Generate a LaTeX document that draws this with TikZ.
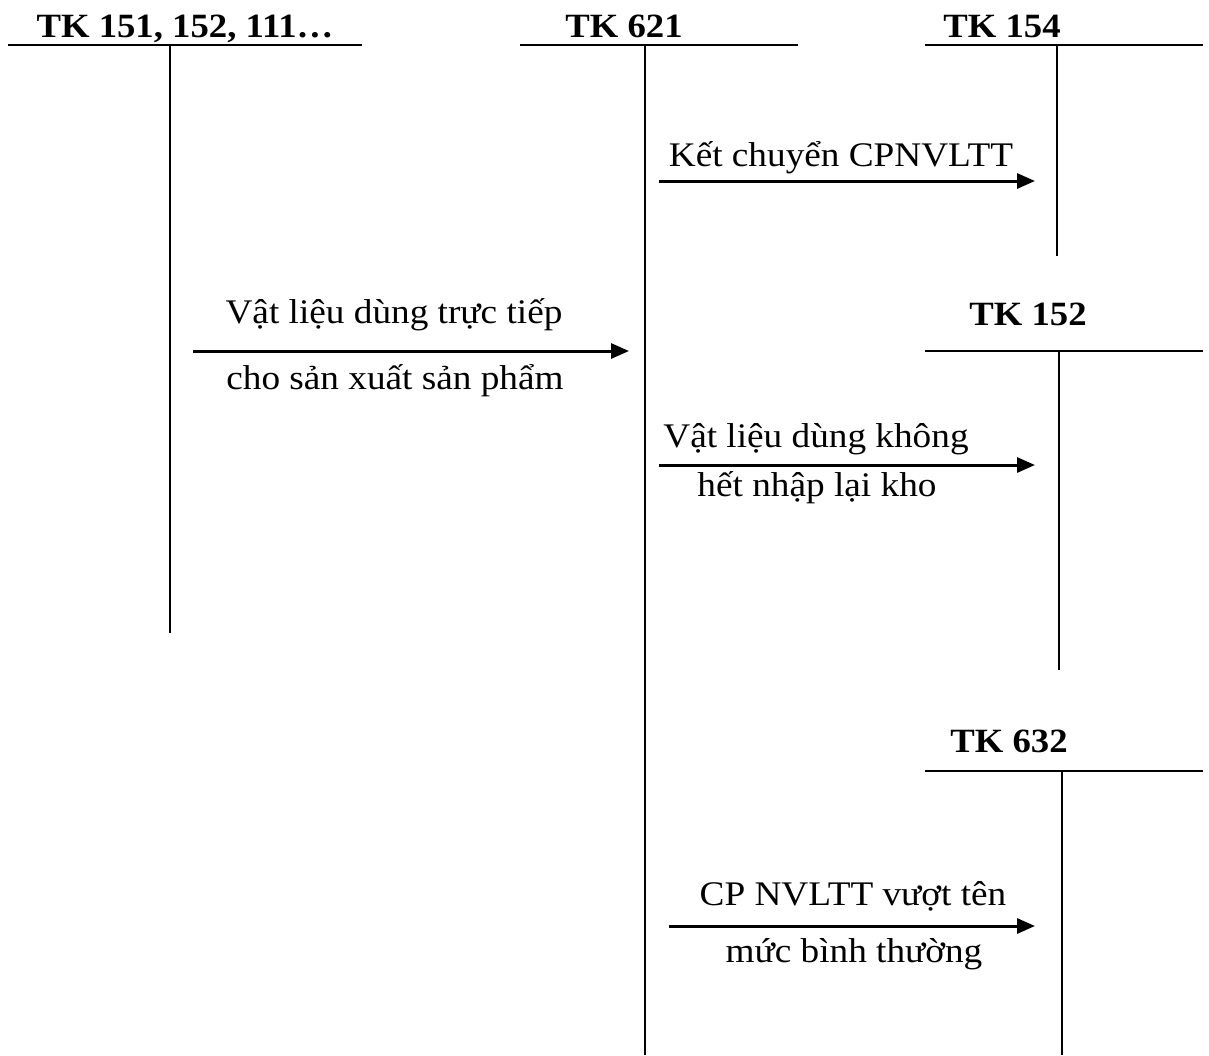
\documentclass[tikz,border=0pt]{standalone}
\usepackage{fontspec}
\setmainfont{Liberation Serif}[FakeStretch=1.08]
\usetikzlibrary{positioning,arrows.meta,calc}

\begin{document}
\begin{tikzpicture}[
  x=1pt, y=-1pt,
  hd/.style={font=\fontsize{34}{40}\selectfont\bfseries, inner sep=0pt, anchor=base},
  lbl/.style={font=\fontsize{34.5}{40}\selectfont, inner sep=0pt, anchor=base},
  acc/.style={line width=2.2pt},
  stem/.style={line width=1.8pt},
  arr/.style={line width=3pt, -{Triangle[length=18pt,width=15pt]}}
]
\useasboundingbox (0,0) rectangle (1209,1055);

% account headers
\node[hd] (h151) at (185,37)  {TK 151, 152, 111…};
\node[hd] (h621) at (624,37)  {TK 621};
\node[hd] (h154) at (1002,37) {TK 154};
\node[hd] (h152) at (1028,325) {TK 152};
\node[hd] (h632) at (1009,752) {TK 632};

% T lines
\coordinate (l151) at (8,45);    \coordinate (r151) at (362,45);
\coordinate (t151) at (170,45);  \coordinate (b151) at (170,633);
\coordinate (l621) at (520,45);  \coordinate (r621) at (798,45);
\coordinate (t621) at (645,45);  \coordinate (b621) at (645,1055);
\coordinate (l154) at (925,45);  \coordinate (r154) at (1203,45);
\coordinate (t154) at (1057,45); \coordinate (b154) at (1057,256);
\coordinate (l152) at (925,351); \coordinate (r152) at (1203,351);
\coordinate (t152) at (1059,351); \coordinate (b152) at (1059,670);
\coordinate (l632) at (925,771); \coordinate (r632) at (1203,771);
\coordinate (t632) at (1062,771); \coordinate (b632) at (1062,1055);

\draw[acc] (l151) -- (r151);  \draw[stem] (t151) -- (b151);
\draw[acc] (l621) -- (r621);  \draw[stem] (t621) -- (b621);
\draw[acc] (l154) -- (r154);  \draw[stem] (t154) -- (b154);
\draw[acc] (l152) -- (r152);  \draw[stem] (t152) -- (b152);
\draw[acc] (l632) -- (r632);  \draw[stem] (t632) -- (b632);

% entries
\coordinate (a1s) at (659,181); \coordinate (a1e) at (1035,181);
\coordinate (a2s) at (193,351); \coordinate (a2e) at (629,351);
\coordinate (a3s) at (659,465); \coordinate (a3e) at (1035,465);
\coordinate (a4s) at (669,926); \coordinate (a4e) at (1035,926);

\draw[arr] (a1s) -- (a1e);
\draw[arr] (a2s) -- (a2e);
\draw[arr] (a3s) -- (a3e);
\draw[arr] (a4s) -- (a4e);

\node[lbl] (k1)  at (841,166) {Kết chuyển CPNVLTT};
\node[lbl] (k2a) at (394,323) {Vật liệu dùng trực tiếp};
\node[lbl] (k2b) at (395,389) {cho sản xuất sản phẩm};
\node[lbl] (k3a) at (816,447) {Vật liệu dùng không};
\node[lbl] (k3b) at (817,496) {hết nhập lại kho};
\node[lbl] (k4a) at (853,905) {CP NVLTT vượt tên};
\node[lbl] (k4b) at (854,962) {mức bình thường};
\end{tikzpicture}
\end{document}
